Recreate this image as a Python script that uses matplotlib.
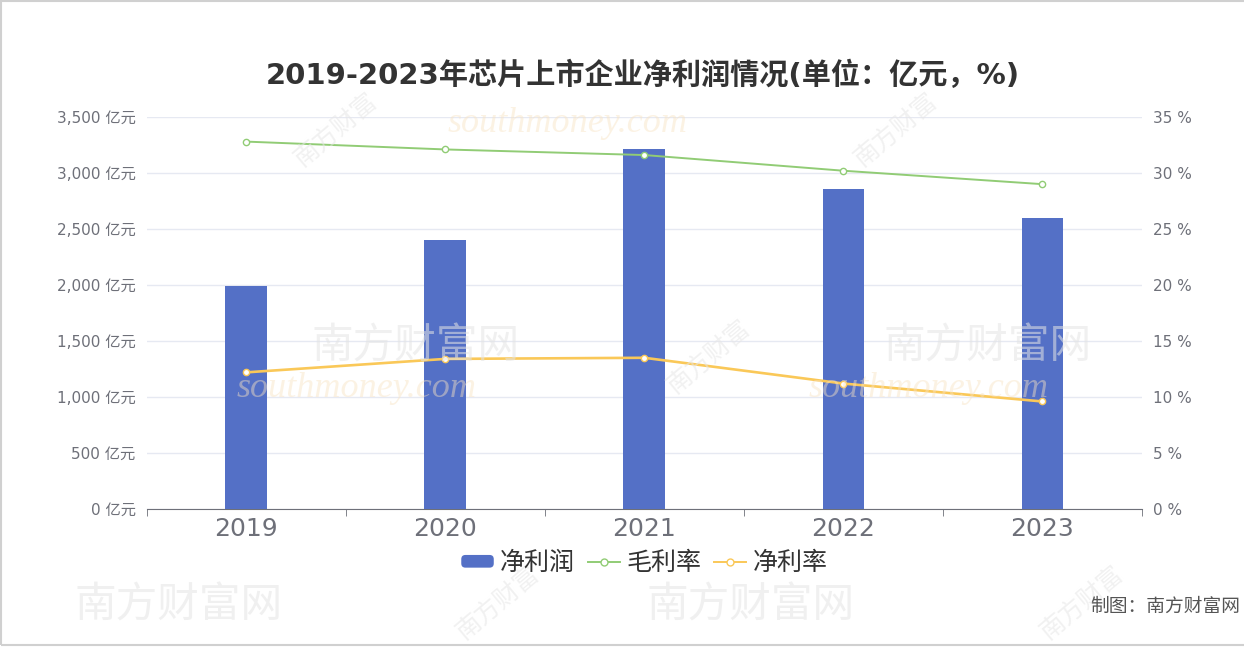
import matplotlib
matplotlib.use("Agg")
import matplotlib.pyplot as plt
from matplotlib.lines import Line2D
from matplotlib.patches import FancyBboxPatch, Rectangle
from matplotlib.legend_handler import HandlerPatch
from matplotlib.ticker import FuncFormatter, MultipleLocator

plt.rcParams['font.family'] = ['DejaVu Sans', 'Noto Sans CJK SC']

# ==========================================================
# DATA
# ==========================================================

years = ["2019", "2020", "2021", "2022", "2023"]
net_profit = [1990, 2400, 3215, 2860, 2600]          # 亿元
gross_margin = [32.8, 32.1, 31.6, 30.2, 29.0]        # %
net_margin = [12.2, 13.4, 13.5, 11.2, 9.6]           # %

BAR_COLOR = "#5470c6"
GREEN = "#91cc75"
YELLOW = "#fac858"
TEXT = "#6e7079"

# ==========================================================
# FIGURE
# ==========================================================

fig = plt.figure(figsize=(12.44, 6.48), dpi=100)
fig.patch.set_facecolor("white")

# faint watermarks
wm_gray = [(0.25, 0.465), (0.71, 0.465), (0.06, 0.065), (0.52, 0.065)]
for x, y in wm_gray:
    fig.text(x, y, "南方财富网", fontsize=30, color="#e4e4e4", alpha=0.55,
             family="Noto Sans CJK SC", ha="left", va="center", zorder=0)
wm_orange = [(0.36, 0.81), (0.19, 0.40), (0.65, 0.40)]
for x, y in wm_orange:
    fig.text(x, y, "southmoney.com", fontsize=26, color="#f8e3c2", alpha=0.45,
             style="italic", family="Liberation Serif",
             ha="left", va="center", zorder=0)
wm_rot = [(0.27, 0.80), (0.72, 0.80), (0.57, 0.45), (0.40, 0.07), (0.87, 0.07)]
for x, y in wm_rot:
    fig.text(x, y, "南方财富", fontsize=18, color="#e6e6e6", alpha=0.55,
             family="Noto Sans CJK SC", rotation=40,
             ha="center", va="center", zorder=0)

ax = fig.add_axes([0.118, 0.2145, 0.8, 0.605])
ax.set_facecolor("none")
ax2 = ax.twinx()

x = range(len(years))

ax.bar(x, net_profit, width=0.21, color=BAR_COLOR, zorder=3)

ax.set_xlim(-0.5, len(years) - 0.5)
ax.set_ylim(0, 3500)
ax.yaxis.set_major_locator(MultipleLocator(500))
ax.yaxis.set_major_formatter(FuncFormatter(lambda v, p: f"{int(v):,} 亿元"))
ax.grid(axis="y", color="#e6e9f2", linewidth=1, zorder=0)
ax.set_axisbelow(True)

ax.set_xticks(list(x))
ax.set_xticklabels(years, fontsize=18, color=TEXT)
ax.set_xticks([i - 0.5 for i in range(len(years) + 1)], minor=True)
ax.tick_params(axis="x", which="major", length=0, pad=6)
ax.tick_params(axis="x", which="minor", length=5, color="#6e7079")
ax.tick_params(axis="y", length=0, labelsize=11, labelcolor=TEXT, pad=8)

for side in ["top", "right", "left"]:
    ax.spines[side].set_visible(False)
    ax2.spines[side].set_visible(False)
ax.spines["bottom"].set_color("#6e7079")
ax2.spines["bottom"].set_visible(False)

ax2.plot(x, gross_margin, color=GREEN, linewidth=1.4, marker="o",
         markersize=4.5, markerfacecolor="white", markeredgecolor=GREEN, zorder=4)
ax2.plot(x, net_margin, color=YELLOW, linewidth=1.9, marker="o",
         markersize=4.5, markerfacecolor="white", markeredgecolor=YELLOW, zorder=4)
ax2.set_ylim(0, 35)
ax2.yaxis.set_major_locator(MultipleLocator(5))
ax2.yaxis.set_major_formatter(FuncFormatter(lambda v, p: f"{int(v)} %"))
ax2.tick_params(axis="y", length=0, labelsize=11, labelcolor=TEXT, pad=8)

# title
fig.text(0.517, 0.884, "2019-2023年芯片上市企业净利润情况(单位：亿元，%)",
         fontsize=21, fontweight="bold", color="#333333", ha="center", va="center")


# legend
class RoundBoxHandler(HandlerPatch):
    def create_artists(self, legend, orig_handle, xdescent, ydescent,
                       width, height, fontsize, trans):
        p = FancyBboxPatch((-xdescent, -ydescent + height * 0.1),
                           width, height * 0.8,
                           boxstyle="round,pad=0,rounding_size=3",
                           facecolor=BAR_COLOR, edgecolor="none", transform=trans)
        return [p]


bar_handle = Rectangle((0, 0), 1, 1, facecolor=BAR_COLOR)
handles = [
    bar_handle,
    Line2D([0], [0], color=GREEN, marker="o", markerfacecolor="white",
           markersize=5, linewidth=1.4),
    Line2D([0], [0], color=YELLOW, marker="o", markerfacecolor="white",
           markersize=5, linewidth=1.4),
]
fig.legend(handles, ["净利润", "毛利率", "净利率"], loc="center",
           bbox_to_anchor=(0.518, 0.131), ncol=3, frameon=False,
           fontsize=18, handlelength=1.3, handleheight=0.6,
           handletextpad=0.25, columnspacing=0.5,
           labelcolor="#333333", handler_map={bar_handle: RoundBoxHandler()})

fig.text(0.876, 0.065, "制图：南方财富网", fontsize=13.5, color="#555555",
         ha="left", va="center")

# frame
fig.patches.append(Rectangle((0.001, 0.004), 1.2, 0.994, transform=fig.transFigure,
                             fill=False, edgecolor="#d0d0d0", linewidth=1.5))

fig.savefig("out.png", dpi=100)
